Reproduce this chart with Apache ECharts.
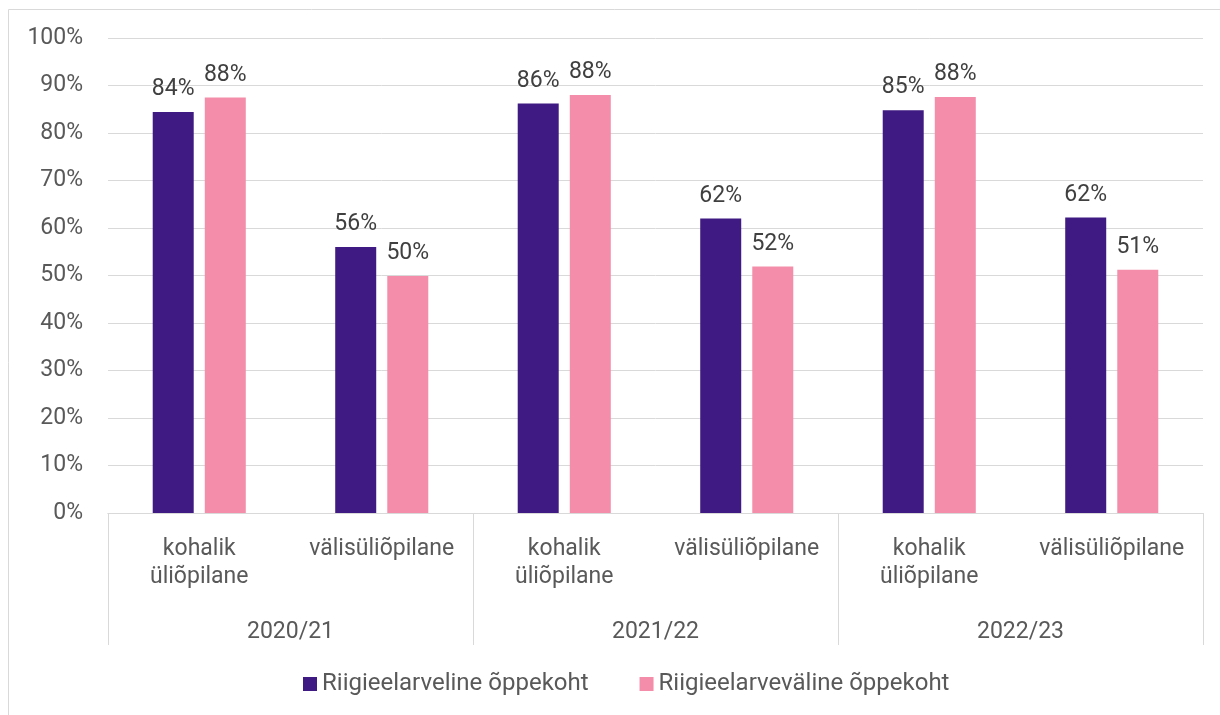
<!DOCTYPE html>
<html>
<head>
<meta charset="utf-8">
<script src="https://cdn.jsdelivr.net/npm/echarts@6/dist/echarts.min.js"></script>
<style>
html,body{margin:0;padding:0;background:#fff;}
#chart{width:1220px;height:715px;}
</style>
</head>
<body>
<div id="chart"></div>
<script>
const categories = ['kohalik\nüliõpilane','välisüliõpilane','kohalik\nüliõpilane','välisüliõpilane','kohalik\nüliõpilane','välisüliõpilane'];
const years = ['2020/21','2021/22','2022/23'];
const seriesNames = ['Riigieelarveline õppekoht','Riigieelarveväline õppekoht'];
const stateFunded = [84.4, 56.0, 86.2, 62.0, 84.8, 62.2];
const nonStateFunded = [87.5, 49.9, 88.0, 51.9, 87.6, 51.2];
const colors = ['#3F1A82','#F48DA9'];

const FONT = 'Roboto';
const FS = 23;
const chart = echarts.init(document.getElementById('chart'));
const labelCfg = {
  show: true, position: 'top', distance: 11,
  color: '#404040', fontSize: FS, fontFamily: FONT,
  formatter: p => Math.round(p.value) + '%'
};
chart.setOption({
  animation: false,
  textStyle: {fontFamily: FONT},
  graphic: [{
    type: 'polyline', silent: true,
    shape: {points: [[8.5, 715], [8.5, 9.5], [1220, 9.5]]},
    style: {stroke: '#d9d9d9', lineWidth: 1, fill: null}
  }],
  grid: {left: 108, right: 17, top: 38, bottom: 202, containLabel: false},
  legend: {
    bottom: 14, left: 298,
    itemWidth: 14, itemHeight: 14, itemGap: 51,
    icon: 'rect',
    textStyle: {color: '#595959', fontSize: 24, fontFamily: FONT},
    data: seriesNames
  },
  xAxis: [{
    type: 'category', data: categories,
    axisLine: {lineStyle: {color: '#d9d9d9', width: 1}},
    axisTick: {show: false},
    axisLabel: {color: '#595959', fontSize: FS, fontFamily: FONT, lineHeight: 28, margin: 22, interval: 0}
  }, {
    type: 'category', data: years, position: 'bottom',
    axisLine: {lineStyle: {color: '#d9d9d9', width: 1}},
    axisTick: {show: true, length: 132, lineStyle: {color: '#d9d9d9', width: 1}},
    axisLabel: {color: '#595959', fontSize: FS, fontFamily: FONT, margin: 108, interval: 0}
  }],
  yAxis: {
    type: 'value', min: 0, max: 100, interval: 10,
    axisLine: {show: false}, axisTick: {show: false},
    splitLine: {lineStyle: {color: '#d9d9d9', width: 1}},
    axisLabel: {color: '#595959', fontSize: FS, fontFamily: FONT, margin: 25, formatter: '{value}%'}
  },
  series: [{
    name: seriesNames[0], type: 'bar', data: stateFunded,
    barWidth: 41, barGap: '27%',
    itemStyle: {color: colors[0]}, label: labelCfg
  }, {
    name: seriesNames[1], type: 'bar', data: nonStateFunded,
    barWidth: 41, barGap: '27%',
    itemStyle: {color: colors[1]}, label: labelCfg
  }]
});
</script>
</body>
</html>
